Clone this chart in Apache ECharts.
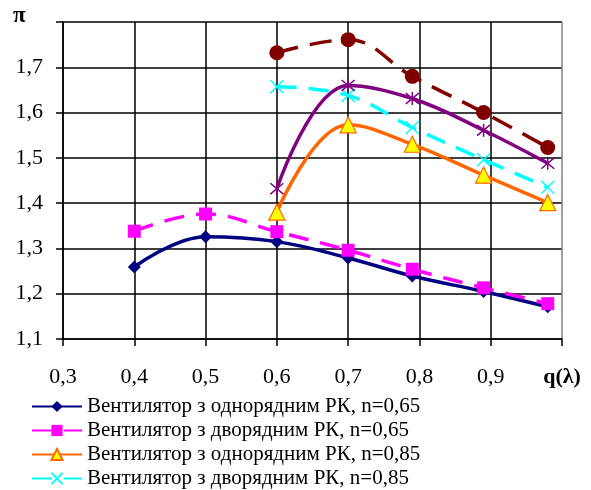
<!DOCTYPE html>
<html><head><meta charset="utf-8">
<script src="https://cdn.jsdelivr.net/npm/echarts@6/dist/echarts.min.js"></script>
<style>html,body{margin:0;padding:0;background:#fff}#c{width:591px;height:490px}</style>
</head><body><div id="c"></div>
<script>
const xA = [0.4, 0.5, 0.6, 0.7, 0.79, 0.89, 0.98];
const xB = [0.6, 0.7, 0.79, 0.89, 0.98];
const s1 = [1.259, 1.326, 1.315, 1.279, 1.239, 1.205, 1.171];
const s2 = [1.338, 1.376, 1.337, 1.296, 1.254, 1.213, 1.178];
const s3 = [1.380, 1.573, 1.530, 1.462, 1.401];
const s4 = [1.657, 1.638, 1.567, 1.496, 1.435];
const s5 = [1.432, 1.660, 1.631, 1.561, 1.488];
const s6 = [1.732, 1.761, 1.680, 1.600, 1.523];
const names = [
  'Вентилятор з однорядним РК, n=0,65',
  'Вентилятор з дворядним РК, n=0,65',
  'Вентилятор з однорядним РК, n=0,85',
  'Вентилятор з дворядним РК, n=0,85',
  'Вентилятор з однорядним РК, n=0,85 (2)',
  'Вентилятор з дворядним РК, n=0,85 (2)'
];
const xTicks = ['0,3','0,4','0,5','0,6','0,7','0,8','0,9','q(λ)'];
const yTicks = ['1,1','1,2','1,3','1,4','1,5','1,6','1,7',''];

const pair = (xs, ys) => xs.map((x, i) => [x, ys[i]]);
const font = 'Liberation Serif, Times New Roman, serif';
const crossPath = 'path://M0,0L10,10M10,0L0,10';
const starPath = 'path://M0,0L10,10M10,0L0,10M5,-1L5,11';

const chart = echarts.init(document.getElementById('c'));
chart.setOption({
  animation: false,
  backgroundColor: '#fff',
  grid: { left: 63, top: 22, right: 29, bottom: 151 },
  xAxis: {
    type: 'value', min: 0.3, max: 1.0, interval: 0.1,
    axisLine: { show: true, onZero: false, lineStyle: { color: '#000', width: 1.5 } },
    axisTick: { show: true, inside: false, length: 7, lineStyle: { color: '#000', width: 1.5 } },
    splitLine: { show: true, lineStyle: { color: ['#000','#000','#000','#000','#000','#000','#000','#808080'], width: 1.5 } },
    axisLabel: {
      margin: 27, fontFamily: font, fontSize: 22, color: '#000',
      formatter: v => { const i = Math.round((v - 0.3) * 10); const t = xTicks[i] || ''; return i === 7 ? '{b|' + t + '}' : t; },
      rich: { b: { fontFamily: font, fontSize: 22, fontWeight: 'bold', color: '#000' } }
    }
  },
  yAxis: {
    type: 'value', min: 1.1, max: 1.8, interval: 0.1,
    axisLine: { show: true, lineStyle: { color: '#000', width: 1.5 } },
    axisTick: { show: true, inside: false, length: 7, lineStyle: { color: '#000', width: 1.5 } },
    splitLine: { show: true, lineStyle: { color: '#000', width: 1.5 } },
    axisLabel: {
      margin: 20, fontFamily: font, fontSize: 22, color: '#000',
      formatter: v => yTicks[Math.round((v - 1.1) * 10)] || ''
    }
  },
  graphic: [
    { type: 'text', left: 13, top: 5, style: { text: 'π', fontFamily: font, fontSize: 23, fontWeight: 'bold', fill: '#000' } }
  ],
  legend: {
    orient: 'vertical', left: 26, top: 391, height: 150, itemWidth: 50, itemHeight: 14, itemGap: 3,
    data: names.slice(0, 4),
    textStyle: { fontFamily: font, fontSize: 21, color: '#000', lineHeight: 21 }
  },
  series: [
    { name: names[0], type: 'line', smooth: 0.4, data: pair(xA, s1),
      lineStyle: { color: '#000080', width: 3.5 }, itemStyle: { color: '#000080' },
      symbol: 'diamond', symbolSize: 13 },
    { name: names[1], type: 'line', smooth: 0.4, data: pair(xA, s2),
      lineStyle: { color: '#FF00FF', width: 3.5, type: [20, 12] }, itemStyle: { color: '#FF00FF' },
      symbol: 'rect', symbolSize: 13 },
    { name: names[2], type: 'line', smooth: 0.4, data: pair(xB, s3),
      lineStyle: { color: '#FF6600', width: 3.5 }, itemStyle: { color: '#FFFF00', borderColor: '#FF6600', borderWidth: 1.2 },
      symbol: 'triangle', symbolSize: 16 },
    { name: names[3], type: 'line', smooth: 0.4, data: pair(xB, s4),
      lineStyle: { color: '#00FFFF', width: 3.5, type: [20, 12] }, itemStyle: { color: 'none', borderColor: '#00FFFF', borderWidth: 1.5 },
      symbol: crossPath, symbolSize: 13 },
    { name: names[4], type: 'line', smooth: 0.4, data: pair(xB, s5),
      lineStyle: { color: '#800080', width: 3.5 }, itemStyle: { color: 'none', borderColor: '#800080', borderWidth: 1.5 },
      symbol: starPath, symbolSize: 13 },
    { name: names[5], type: 'line', smooth: 0.4, data: pair(xB, s6),
      lineStyle: { color: '#800000', width: 3.5, type: [22, 12] }, itemStyle: { color: '#800000' },
      symbol: 'circle', symbolSize: 15 }
  ]
});
</script></body></html>
